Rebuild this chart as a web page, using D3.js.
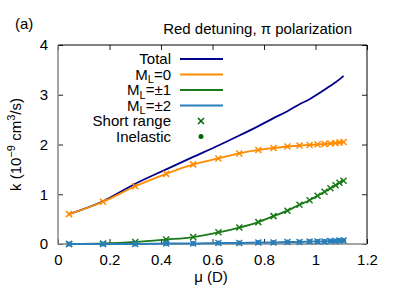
<html>
<head>
<script src="https://d3js.org/d3.v7.min.js"></script>
</head>
<body style="margin:0">
<div id="chart"></div>
<script>

// dipole moment (D) at each computed point
var mu = [0.043, 0.175, 0.30, 0.42, 0.525, 0.623, 0.704, 0.778, 0.837, 0.891, 0.938, 0.977, 1.008, 1.035, 1.058, 1.078, 1.093, 1.109];
// rate coefficients, 1e-9 cm^3/s
var kTotal = [0.60, 0.86, 1.21, 1.50, 1.75, 1.98, 2.18, 2.37, 2.53, 2.67, 2.81, 2.91, 3.01, 3.10, 3.18, 3.25, 3.31, 3.38];
var kM0 = [0.60, 0.85, 1.16, 1.41, 1.60, 1.72, 1.82, 1.89, 1.93, 1.96, 1.98, 1.99, 2.00, 2.01, 2.02, 2.03, 2.04, 2.05];
var kM1 = [0.00, 0.01, 0.04, 0.09, 0.14, 0.235, 0.33, 0.44, 0.56, 0.67, 0.79, 0.88, 0.97, 1.05, 1.12, 1.18, 1.23, 1.27];
var kM2 = [0.00, 0.00, 0.00, 0.01, 0.01, 0.02, 0.02, 0.03, 0.03, 0.04, 0.04, 0.05, 0.05, 0.05, 0.06, 0.06, 0.07, 0.07];

var xTicks = [0, 0.2, 0.4, 0.6, 0.8, 1, 1.2];
var yTicks = [0, 1, 2, 3, 4];

var margin = {top: 45, right: 28, bottom: 50, left: 58},
    width = 367 - margin.left,
    height = 244 - margin.top;

var fontSize = "15px",
    subSize = "11px";

var svg = d3.select("#chart")
    .append("svg")
    .attr("width", 395)
    .attr("height", 294)
    .style("font-family", "Liberation Sans, Arial, sans-serif");

var g = svg.append("g")
    .attr("transform", "translate(" + margin.left + "," + margin.top + ")");

var x = d3.scaleLinear().domain([0, 1.2]).range([0, width]);
var y = d3.scaleLinear().domain([0, 4]).range([height, 0]);

// ticks on all four sides, pointing in
function ticks(axis, vals, fmt) {
    return axis.tickValues(vals).tickSizeInner(-5).tickSizeOuter(0).tickPadding(10).tickFormat(fmt);
}
var fmt = function(d) { return d3.format("")(d); };

var xb = g.append("g").attr("transform", "translate(0," + height + ")")
    .call(ticks(d3.axisBottom(x), xTicks, fmt));
var yl = g.append("g").call(ticks(d3.axisLeft(y), yTicks, fmt));
var xt = g.append("g").call(ticks(d3.axisTop(x), xTicks, ""));
var yr = g.append("g").attr("transform", "translate(" + width + ",0)")
    .call(ticks(d3.axisRight(y), yTicks, ""));

[xb, yl, xt, yr].forEach(function(a) {
    a.select(".domain").remove();
    a.selectAll("line").attr("stroke", "#222");
    a.selectAll("text").style("font-size", fontSize).attr("fill", "#000");
});

// border: top/right black, left/bottom grey
g.append("path").attr("d", "M0,0H" + width + "V" + height)
    .attr("fill", "none").attr("stroke", "#000");
g.append("path").attr("d", "M0,0V" + height + "H" + width)
    .attr("fill", "none").attr("stroke", "#888").attr("stroke-width", 1.5);

var line = d3.line().curve(d3.curveMonotoneX);
function pts(arr) { return mu.map(function(m, i) { return [x(m), y(arr[i])]; }); }

var series = [
    {k: kTotal, color: "#00008b", marks: false},
    {k: kM0, color: "#ff8c00", marks: true},
    {k: kM1, color: "#1a7a1a", marks: true},
    {k: kM2, color: "#2a7fb8", marks: true, dot: true}
];

function cross(sel, cx, cy, color) {
    sel.append("path")
        .attr("d", "M" + (cx - 3) + "," + (cy - 3) + "L" + (cx + 3) + "," + (cy + 3) +
                   "M" + (cx - 3) + "," + (cy + 3) + "L" + (cx + 3) + "," + (cy - 3))
        .attr("stroke", color).attr("stroke-width", 1.5).attr("fill", "none");
}

series.forEach(function(s) {
    g.append("path").attr("d", line(pts(s.k)))
        .attr("fill", "none").attr("stroke", s.color).attr("stroke-width", 1.8);
    if (s.marks) {
        var mg = g.append("g");
        pts(s.k).forEach(function(p) {
            cross(mg, p[0], p[1], s.color);
            if (s.dot) mg.append("circle").attr("cx", p[0]).attr("cy", p[1]).attr("r", 2.5).attr("fill", s.color);
        });
    }
});

// legend
var legend = [
    {label: "Total", sub: null, color: "#00008b"},
    {label: "M", sub: "L", rest: "=0", color: "#ff8c00"},
    {label: "M", sub: "L", rest: "=\u00b11", color: "#1a7a1a"},
    {label: "M", sub: "L", rest: "=\u00b12", color: "#2a7fb8"},
    {label: "Short range", sub: null, color: "#006400", sym: "x"},
    {label: "Inelastic", sub: null, color: "#006400", sym: "dot"}
];
legend.forEach(function(d, i) {
    var ly = 59 + i * 15.5;
    var t = svg.append("text").attr("x", 171).attr("y", ly + 5)
        .attr("text-anchor", "end").style("font-size", fontSize);
    t.append("tspan").text(d.label);
    if (d.sub) {
        t.append("tspan").attr("dy", 3.5).style("font-size", subSize).text(d.sub);
        t.append("tspan").attr("dy", -3.5).text(d.rest);
    }
    if (d.sym === "x") {
        cross(svg, 201, ly, d.color);
    } else if (d.sym === "dot") {
        svg.append("circle").attr("cx", 201).attr("cy", ly).attr("r", 2.5).attr("fill", d.color);
    } else {
        svg.append("line").attr("x1", 180).attr("x2", 223).attr("y1", ly).attr("y2", ly)
            .attr("stroke", d.color).attr("stroke-width", 1.8);
    }
});

// titles
svg.append("text").attr("x", 352).attr("y", 34).attr("text-anchor", "end")
    .style("font-size", fontSize).text("Red detuning, \u03c0 polarization");
svg.append("text").attr("x", 15).attr("y", 29).style("font-size", fontSize).text("(a)");

svg.append("text").attr("x", 211).attr("y", 282)
    .attr("text-anchor", "middle").style("font-size", fontSize).text("\u03bc (D)");

var yt = svg.append("text")
    .attr("transform", "translate(21," + (margin.top + height / 2) + ") rotate(-90)")
    .attr("text-anchor", "middle").style("font-size", fontSize);
yt.append("tspan").text("k (10");
yt.append("tspan").attr("dy", -6).style("font-size", subSize).text("\u22129");
yt.append("tspan").attr("dy", 6).text(" cm");
yt.append("tspan").attr("dy", -6).style("font-size", subSize).text("3");
yt.append("tspan").attr("dy", 6).text("/s)");

</script>
</body>
</html>
